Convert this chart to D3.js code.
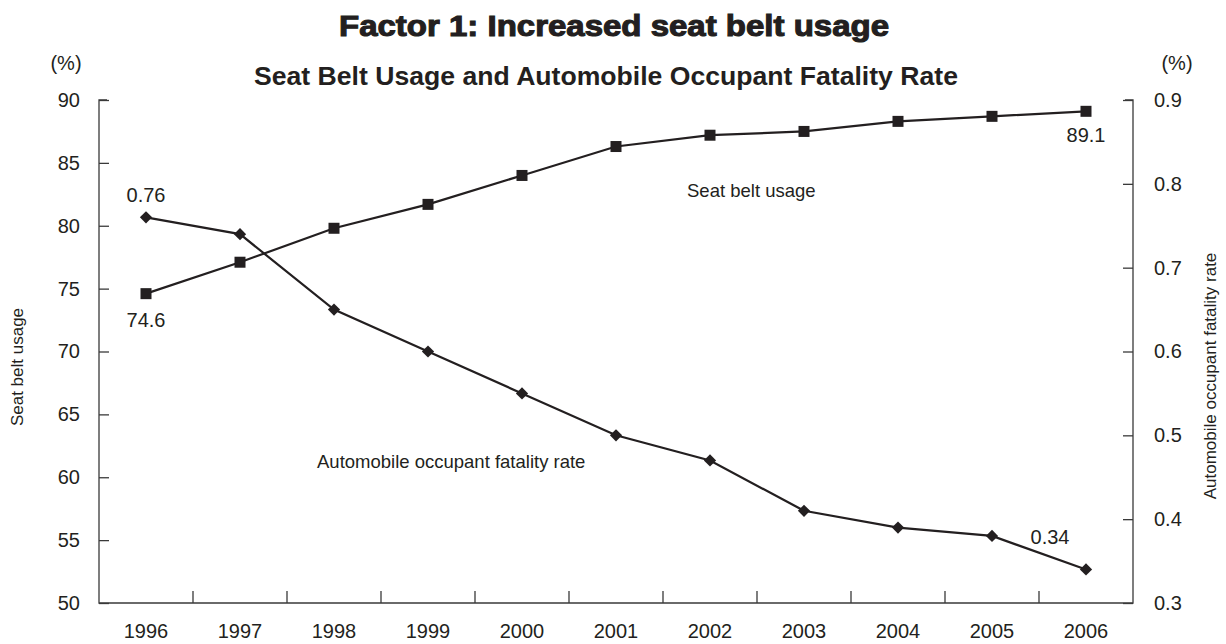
<!DOCTYPE html>
<html>
<head>
<meta charset="utf-8">
<script src="https://cdn.jsdelivr.net/npm/d3@7"></script>
<style>
  html, body { margin: 0; padding: 0; background: #fff; }
  svg { display: block; font-family: "Liberation Sans", Arial, Helvetica, sans-serif; }
</style>
</head>
<body>
<svg id="chart" width="1226" height="644"></svg>
<script>
// Years on the horizontal axis
const years = ["1996","1997","1998","1999","2000","2001","2002","2003","2004","2005","2006"];
// Seat belt usage (%), left axis
const seatBeltUsage = [74.6, 77.1, 79.8, 81.7, 84.0, 86.3, 87.2, 87.5, 88.3, 88.7, 89.1];
// Automobile occupant fatality rate (%), right axis
const fatalityRate = [0.76, 0.74, 0.65, 0.60, 0.55, 0.50, 0.47, 0.41, 0.39, 0.38, 0.34];
// Axis tick values
const leftTicks = [50, 55, 60, 65, 70, 75, 80, 85, 90];
const rightTicks = [0.3, 0.4, 0.5, 0.6, 0.7, 0.8, 0.9];

const ink = "#231f20";
const axisInk = "#3a3a3a";
const labelSize = 20;

const svg = d3.select("#chart");
const plotLeft = 99, plotRight = 1133, plotTop = 100, plotBottom = 603;

const x = d3.scaleBand().domain(years).range([plotLeft, plotRight]).padding(0);
const yL = d3.scaleLinear().domain([50, 90]).range([plotBottom, plotTop]);
const yR = d3.scaleLinear().domain([0.3, 0.9]).range([plotBottom, plotTop]);
const cx = d => x(d) + x.bandwidth() / 2;

// Titles
svg.append("text")
  .attr("x", 614).attr("y", 36)
  .attr("text-anchor", "middle")
  .attr("font-size", 30).attr("font-weight", "bold")
  .attr("textLength", 550).attr("lengthAdjust", "spacingAndGlyphs")
  .attr("fill", ink).attr("stroke", ink).attr("stroke-width", 1.1)
  .text("Factor 1: Increased seat belt usage");

svg.append("text")
  .attr("x", 606).attr("y", 85)
  .attr("text-anchor", "middle")
  .attr("font-size", 26.6).attr("font-weight", "bold")
  .attr("fill", ink)
  .text("Seat Belt Usage and Automobile Occupant Fatality Rate");

// Unit labels
svg.append("text").attr("x", 66).attr("y", 70).attr("text-anchor", "middle")
  .attr("font-size", labelSize).attr("fill", ink).text("(%)");
svg.append("text").attr("x", 1177).attr("y", 70).attr("text-anchor", "middle")
  .attr("font-size", labelSize).attr("fill", ink).text("(%)");

// Left axis (ticks pointing into the plot)
const gL = svg.append("g").attr("transform", `translate(${plotLeft},0)`)
  .call(d3.axisRight(yL).tickValues(leftTicks).tickSize(10).tickFormat(d3.format("d")));
gL.select(".domain").remove();
gL.selectAll(".tick line").attr("stroke", axisInk).attr("stroke-width", 1.3);
gL.selectAll(".tick text")
  .attr("x", -19).attr("text-anchor", "end")
  .attr("font-size", labelSize).attr("fill", ink);
gL.attr("font-family", null);

// Right axis (ticks pointing into the plot)
const gR = svg.append("g").attr("transform", `translate(${plotRight},0)`)
  .call(d3.axisLeft(yR).tickValues(rightTicks).tickSize(10).tickFormat(d3.format(".1f")));
gR.select(".domain").remove();
gR.selectAll(".tick line").attr("stroke", axisInk).attr("stroke-width", 1.3);
gR.selectAll(".tick text")
  .attr("x", 21).attr("text-anchor", "start")
  .attr("font-size", labelSize).attr("fill", ink);
gR.attr("font-family", null);

// Bottom axis: category boundary ticks pointing up, labels centred in bands
const gB = svg.append("g").attr("transform", `translate(0,${plotBottom})`)
  .call(d3.axisBottom(x).tickSize(0).tickPadding(0));
gB.select(".domain").remove();
gB.selectAll(".tick text")
  .attr("y", 35).attr("dy", null)
  .attr("font-size", labelSize).attr("fill", ink);
gB.attr("font-family", null);
svg.append("g").selectAll("line")
  .data(years.slice(1))
  .join("line")
  .attr("x1", d => x(d)).attr("x2", d => x(d))
  .attr("y1", plotBottom).attr("y2", plotBottom - 12)
  .attr("stroke", axisInk).attr("stroke-width", 1.3);

// Plot frame: left, bottom and right axis lines
svg.append("path")
  .attr("d", `M${plotLeft + 8},${plotTop} H${plotLeft} V${plotBottom} H${plotRight} V${plotTop} H${plotRight - 8}`)
  .attr("fill", "none").attr("stroke", axisInk).attr("stroke-width", 1.3);

// Axis titles
svg.append("text")
  .attr("transform", `translate(23,367) rotate(-90)`)
  .attr("text-anchor", "middle").attr("font-size", 17).attr("fill", ink)
  .text("Seat belt usage");
svg.append("text")
  .attr("transform", `translate(1216,376) rotate(-90)`)
  .attr("text-anchor", "middle").attr("font-size", 17).attr("fill", ink)
  .text("Automobile occupant fatality rate");

// Seat belt usage line with square markers
const lineL = d3.line().x((d, i) => cx(years[i])).y(d => yL(d));
svg.append("path").datum(seatBeltUsage)
  .attr("d", lineL).attr("fill", "none")
  .attr("stroke", ink).attr("stroke-width", 2.2);
svg.append("g").selectAll("rect")
  .data(seatBeltUsage)
  .join("rect")
  .attr("x", (d, i) => cx(years[i]) - 5.5)
  .attr("y", d => yL(d) - 5.5)
  .attr("width", 11).attr("height", 11)
  .attr("fill", ink);

// Fatality rate line with diamond markers
const lineR = d3.line().x((d, i) => cx(years[i])).y(d => yR(d));
svg.append("path").datum(fatalityRate)
  .attr("d", lineR).attr("fill", "none")
  .attr("stroke", ink).attr("stroke-width", 2.2);
svg.append("g").selectAll("path")
  .data(fatalityRate)
  .join("path")
  .attr("transform", (d, i) => `translate(${cx(years[i])},${yR(d)}) rotate(45)`)
  .attr("d", d3.symbol().type(d3.symbolSquare).size(75))
  .attr("fill", ink);

// Series labels inside the plot
svg.append("text").attr("x", 687).attr("y", 197)
  .attr("font-size", 18.5).attr("fill", ink).text("Seat belt usage");
svg.append("text").attr("x", 317).attr("y", 468)
  .attr("font-size", 18.5).attr("fill", ink).text("Automobile occupant fatality rate");

// End-point value labels
const n = years.length - 1;
const fmtL = d3.format(".1f"), fmtR = d3.format(".2f");
svg.append("text").attr("x", cx(years[0])).attr("y", yL(seatBeltUsage[0]) + 33)
  .attr("text-anchor", "middle").attr("font-size", labelSize).attr("fill", ink)
  .text(fmtL(seatBeltUsage[0]));
svg.append("text").attr("x", cx(years[n])).attr("y", yL(seatBeltUsage[n]) + 31)
  .attr("text-anchor", "middle").attr("font-size", labelSize).attr("fill", ink)
  .text(fmtL(seatBeltUsage[n]));
svg.append("text").attr("x", cx(years[0])).attr("y", yR(fatalityRate[0]) - 15)
  .attr("text-anchor", "middle").attr("font-size", labelSize).attr("fill", ink)
  .text(fmtR(fatalityRate[0]));
svg.append("text").attr("x", cx(years[n]) - 36).attr("y", yR(fatalityRate[n]) - 25)
  .attr("text-anchor", "middle").attr("font-size", labelSize).attr("fill", ink)
  .text(fmtR(fatalityRate[n]));
</script>
</body>
</html>
